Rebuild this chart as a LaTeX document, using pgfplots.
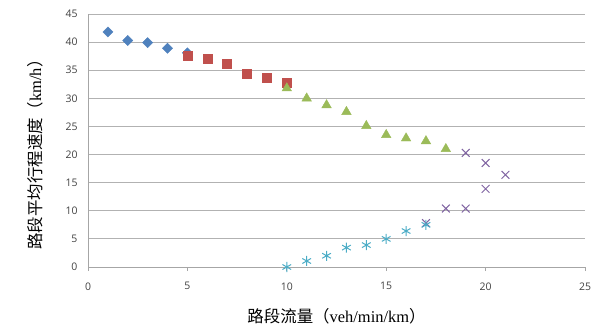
\documentclass[border=0pt]{standalone}
\usepackage{pgfplots}
\pgfplotsset{compat=1.18}
\usepackage{fontspec}
\setmainfont{Liberation Serif}
\newfontfamily\tickfont{Open Sans}
\newfontfamily\cjk{Noto Sans CJK SC}
\definecolor{sblue}{HTML}{4F81BD}
\definecolor{sred}{HTML}{C0504D}
\definecolor{sgreen}{HTML}{9BBB59}
\definecolor{spurple}{HTML}{8064A2}
\definecolor{scyan}{HTML}{4BACC6}
\begin{document}
\begin{tikzpicture}[x=1bp,y=1bp]
\begin{axis}[
  name=ax,
  at={(88bp,63bp)},
  anchor=south west,
  scale only axis,
  width=497bp, height=253bp,
  xmin=0, xmax=25, ymin=0, ymax=45,
  xtick={0,5,10,15,20,25},
  ytick={0,5,10,15,20,25,30,35,40,45},
  axis x line*=bottom,
  axis y line*=left,
  axis line style={gray!70, line width=0.8pt},
  ymajorgrids,
  grid style={gray!60, line width=0.8pt},
  tick style={gray!70, line width=0.8pt},
  xtick align=outside,
  major tick length=4bp,
  y tick style={draw=none},
  tick label style={font=\tickfont\fontsize{10.5}{12}\selectfont, text=black!75},
  /pgf/number format/assume math mode=true,
  xticklabel style={yshift=-8bp},
  yticklabel style={xshift=-7bp},
  xlabel={{\cjk 路段流量（}veh/min/km{\cjk ）}},
  ylabel={{\cjk 路段平均行程速度（}km/h{\cjk ）}},
  label style={font=\fontsize{16.5}{18}\selectfont},
  xlabel style={yshift=-11bp},
  ylabel style={yshift=16bp, xshift=-10bp},
  clip=false,
]
\addplot[only marks, mark=square*, mark size=3.6bp, color=sblue, mark options={rotate=45}] coordinates {
(1,41.8) (2,40.3) (3,39.9) (4,38.9) (5,38.1)};
\addplot[only marks, mark=square*, mark size=4.5bp, color=sred] coordinates {
(5,37.5) (6,37.0) (7,36.2) (8,34.4) (9,33.6) (10,32.7)};
\addplot[only marks, mark=triangle*, mark size=5.5bp, color=sgreen] coordinates {
(10,31.8) (11,30.0) (12,28.8) (13,27.6) (14,25.1) (15,23.5) (16,22.9) (17,22.4) (18,21.0)};
\addplot[only marks, mark=x, mark size=5.5bp, color=spurple, mark options={line width=1pt}] coordinates {
(17,7.8) (18,10.4) (19,10.4) (19,20.3) (20,18.5) (20,13.9) (21,16.4)};
\addplot[only marks, mark=asterisk, mark size=5bp, color=scyan, mark options={line width=1pt}] coordinates {
(10,0) (11,1.07) (12,2.0) (13,3.45) (14,3.9) (15,5.0) (16,6.4) (17,7.5)};
\end{axis}
\path (0,0) rectangle (605bp,330bp);
\end{tikzpicture}
\end{document}
